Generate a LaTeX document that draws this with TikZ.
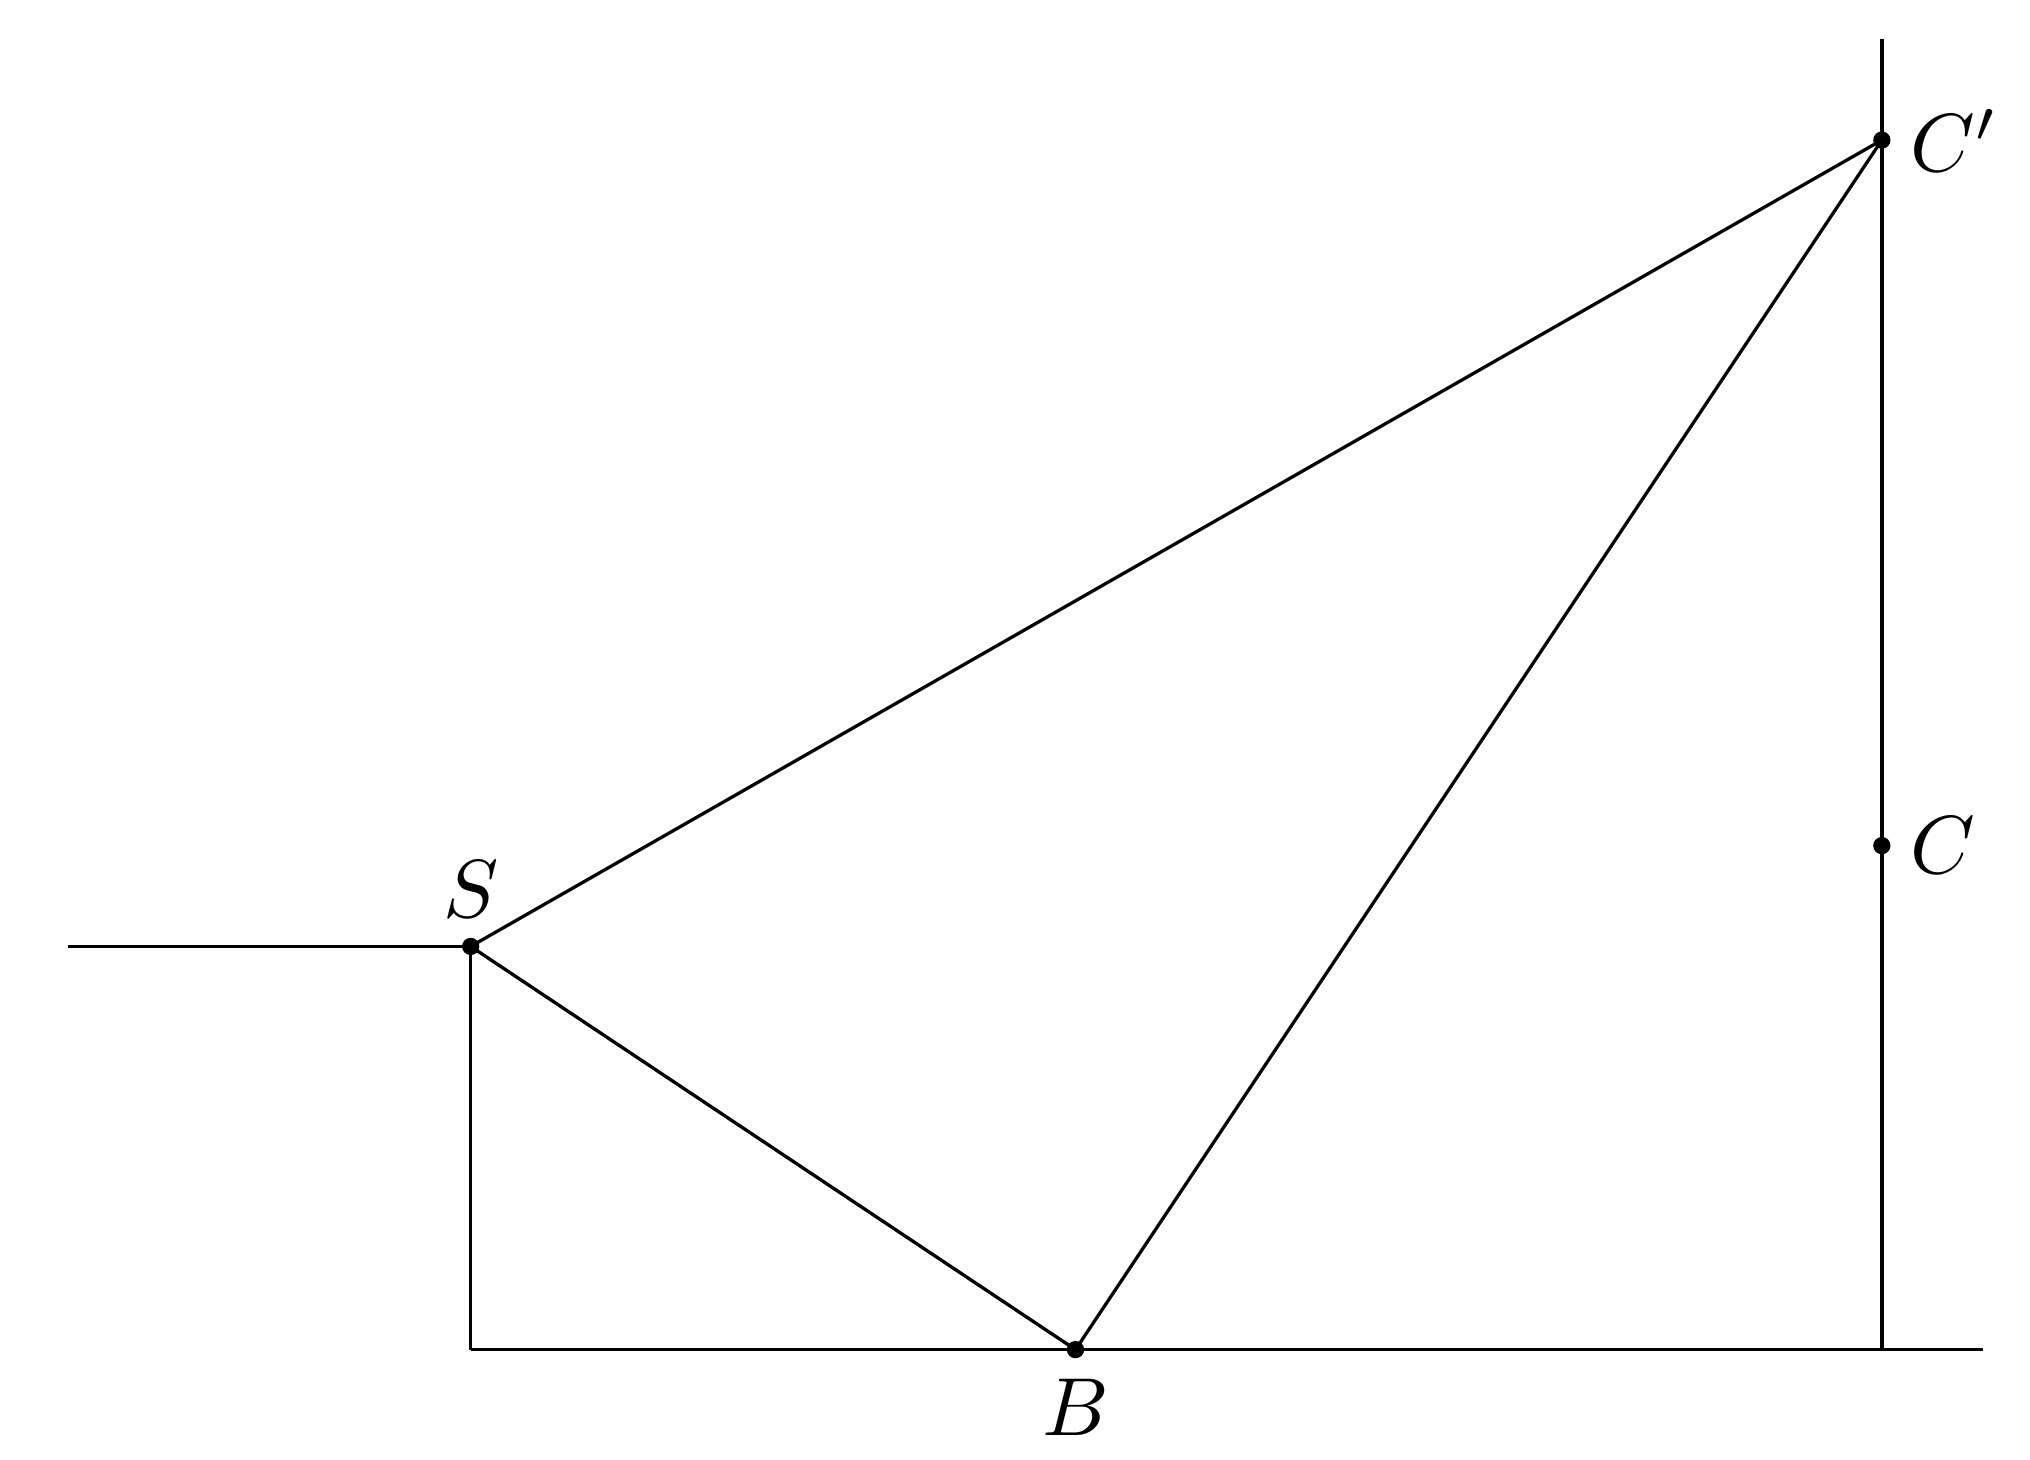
\documentclass[tikz,border=0pt]{standalone}
\begin{document}
\begin{tikzpicture}[x=0.43cm,y=0.43cm,line width=0.4pt,
  dotpt/.style={circle,fill=black,inner sep=0pt,minimum size=2.1pt}]
\useasboundingbox (-4.67,-1.09) rectangle (15.47,13.39);
\coordinate (L) at (-4,4);
\coordinate (F) at (0,0);
\coordinate (R) at (15,0);
\coordinate (Vb) at (14,0);
\coordinate (Vt) at (14,13);
\node[dotpt] (S) at (0,4) {};
\node[dotpt] (B) at (6,0) {};
\node[dotpt] (C) at (14,5) {};
\node[dotpt] (Cp) at (14,12) {};
\draw (L) -- (S.center);
\draw (S.center) -- (F);
\draw (F) -- (R);
\draw (Vb) -- (Vt);
\draw (S.center) -- (Cp.center);
\draw (S.center) -- (B.center);
\draw (B.center) -- (Cp.center);
\node[above] (Slab) at (S.center) {$S$};
\node[below] (Blab) at (B.center) {$B$};
\node[right] (Clab) at (C.center) {$C$};
\node[right] (Cplab) at (Cp.center) {$C'$};
\end{tikzpicture}
\end{document}
